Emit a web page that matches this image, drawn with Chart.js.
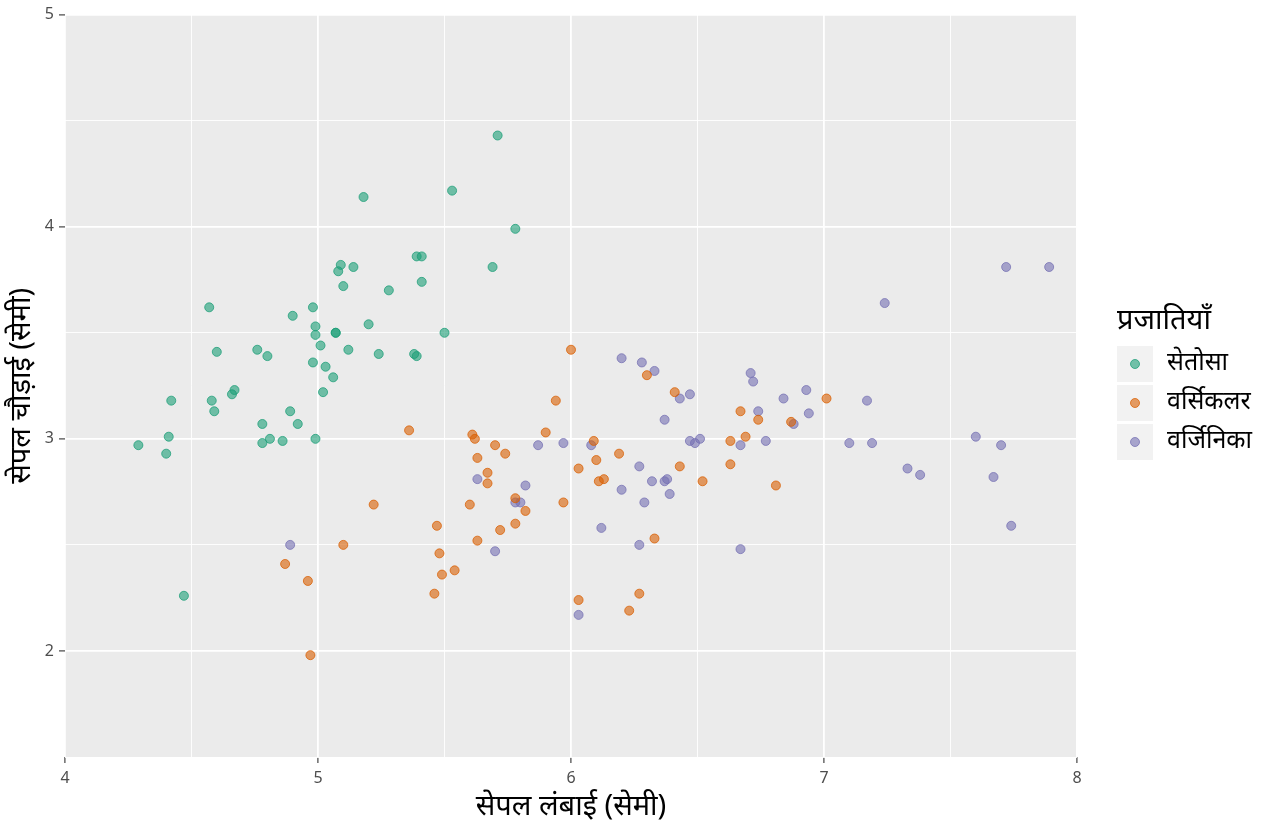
<!DOCTYPE html>
<html lang="hi">
<head>
    <meta charset="UTF-8">
    <title>सेपल आयाम</title>
    <style>
        html, body { margin: 0; padding: 0; background: #ffffff; }
        #wrap { width: 1280px; height: 832px; }
    </style>
    <script src="https://cdn.jsdelivr.net/npm/chart.js"></script>
</head>
<body>
<div id="wrap"><canvas id="irisChart" width="1280" height="832"></canvas></div>
<script>
    // species names and axis titles
    const speciesNames = ["सेतोसा", "वर्सिकलर", "वर्जिनिका"];
    const legendTitle = "प्रजातियाँ";
    const xTitle = "सेपल लंबाई (सेमी)";
    const yTitle = "सेपल चौड़ाई (सेमी)";
    const xTickLabels = [4, 5, 6, 7, 8];
    const yTickLabels = [2, 3, 4, 5];

    // values (jittered points)
    const setosaLength = [5.71, 5.53, 5.18, 5.78, 5.39, 5.41, 5.69, 5.09, 5.14, 5.08, 5.10, 5.28, 5.41,
        4.57, 4.98, 4.90, 4.99, 5.20, 5.07, 5.07, 4.99, 5.50, 5.01, 4.60, 4.76, 4.80, 5.12, 5.24,
        5.38, 5.39, 4.98, 5.03, 5.06, 5.02, 4.67, 4.66, 4.42, 4.58, 4.59, 4.89, 4.78, 4.92, 4.41,
        4.29, 4.40, 4.78, 4.81, 4.86, 4.99, 4.47];
    const setosaWidth = [4.43, 4.17, 4.14, 3.99, 3.86, 3.86, 3.81, 3.82, 3.81, 3.79, 3.72, 3.70, 3.74,
        3.62, 3.62, 3.58, 3.53, 3.54, 3.50, 3.50, 3.49, 3.50, 3.44, 3.41, 3.42, 3.39, 3.42, 3.40,
        3.40, 3.39, 3.36, 3.34, 3.29, 3.22, 3.23, 3.21, 3.18, 3.18, 3.13, 3.13, 3.07, 3.07, 3.01,
        2.97, 2.93, 2.98, 3.00, 2.99, 3.00, 2.26];

    const versicolorLength = [5.36, 5.22, 5.10, 4.87, 4.96, 4.97, 5.61, 5.62, 5.70, 5.74, 5.63, 5.67,
        5.67, 5.60, 5.78, 5.82, 5.78, 5.72, 5.63, 5.47, 5.48, 5.54, 5.49, 5.46, 5.90, 5.94, 6.00,
        6.30, 6.41, 6.09, 6.10, 6.03, 6.19, 6.11, 6.13, 5.97, 6.43, 6.52, 6.33, 6.03, 6.27, 6.23,
        6.67, 6.74, 6.63, 6.69, 6.63, 6.87, 6.81, 7.01];
    const versicolorWidth = [3.04, 2.69, 2.50, 2.41, 2.33, 1.98, 3.02, 3.00, 2.97, 2.93, 2.91, 2.84,
        2.79, 2.69, 2.72, 2.66, 2.60, 2.57, 2.52, 2.59, 2.46, 2.38, 2.36, 2.27, 3.03, 3.18, 3.42,
        3.30, 3.22, 2.99, 2.90, 2.86, 2.93, 2.80, 2.81, 2.70, 2.87, 2.80, 2.53, 2.24, 2.27, 2.19,
        3.13, 3.09, 2.99, 3.01, 2.88, 3.08, 2.78, 3.19];

    const virginicaLength = [5.87, 5.63, 5.82, 5.78, 5.80, 4.89, 5.70, 6.20, 6.28, 6.33, 6.47, 6.43,
        6.71, 6.72, 6.93, 6.84, 6.74, 6.94, 6.88, 6.37, 6.47, 6.51, 6.49, 6.67, 6.77, 5.97, 6.08,
        6.27, 6.38, 6.37, 6.32, 6.20, 6.39, 6.29, 6.12, 6.27, 6.67, 6.03, 7.72, 7.89, 7.24, 7.17,
        7.10, 7.19, 7.33, 7.38, 7.60, 7.70, 7.67, 7.74];
    const virginicaWidth = [2.97, 2.81, 2.78, 2.70, 2.70, 2.50, 2.47, 3.38, 3.36, 3.32, 3.21, 3.19,
        3.31, 3.27, 3.23, 3.19, 3.13, 3.12, 3.07, 3.09, 2.99, 3.00, 2.98, 2.97, 2.99, 2.98, 2.97,
        2.87, 2.81, 2.80, 2.80, 2.76, 2.74, 2.70, 2.58, 2.50, 2.48, 2.17, 3.81, 3.81, 3.64, 3.18,
        2.98, 2.98, 2.86, 2.83, 3.01, 2.97, 2.82, 2.59];

    const speciesColors = [[27, 158, 119], [217, 95, 2], [117, 112, 179]];

    const FONT = "'Noto Sans', 'Noto Sans Devanagari', sans-serif";

    function toPoints(xs, ys) {
        return xs.map((x, i) => ({ x: x, y: ys[i] }));
    }

    function rgba(c, a) {
        return "rgba(" + c[0] + "," + c[1] + "," + c[2] + "," + a + ")";
    }

    const seriesData = [
        toPoints(setosaLength, setosaWidth),
        toPoints(versicolorLength, versicolorWidth),
        toPoints(virginicaLength, virginicaWidth)
    ];

    const isMajor = v => Number.isInteger(Math.round(v * 1000) / 1000);

    // grey panel behind the points
    const panelBackground = {
        id: "panelBackground",
        beforeDraw(chart) {
            const a = chart.chartArea;
            const ctx = chart.ctx;
            ctx.save();
            ctx.fillStyle = "#EBEBEB";
            ctx.fillRect(a.left, a.top, a.right - a.left, a.bottom - a.top);
            ctx.restore();
        }
    };

    // ggplot-like legend with grey key boxes
    const sideLegend = {
        id: "sideLegend",
        afterDraw(chart) {
            const ctx = chart.ctx;
            const x0 = 1117;
            ctx.save();
            ctx.fillStyle = "#000000";
            ctx.font = "29px " + FONT;
            ctx.textBaseline = "middle";
            ctx.textAlign = "left";
            ctx.fillText(legendTitle, x0, 321);
            ctx.font = "25px " + FONT;
            chart.data.datasets.forEach((ds, i) => {
                const top = 346 + i * 39;
                ctx.fillStyle = "#F2F2F2";
                ctx.fillRect(x0, top, 36, 36);
                ctx.beginPath();
                ctx.arc(x0 + 18, top + 18, 4.5, 0, Math.PI * 2);
                ctx.fillStyle = ds.backgroundColor;
                ctx.fill();
                ctx.lineWidth = 1;
                ctx.strokeStyle = ds.borderColor;
                ctx.stroke();
                ctx.fillStyle = "#000000";
                ctx.fillText(ds.label, x0 + 50, top + 17);
            });
            ctx.restore();
        }
    };

    function gridOptions() {
        return {
            color: "#FFFFFF",
            lineWidth: c => (c.tick && isMajor(c.tick.value)) ? 1.8 : 0.9,
            tickColor: c => (c.tick && isMajor(c.tick.value)) ? "#333333" : "rgba(0,0,0,0)",
            tickWidth: 1.1,
            tickLength: 6
        };
    }

    const ctx = document.getElementById("irisChart").getContext("2d");
    new Chart(ctx, {
        type: "scatter",
        data: {
            datasets: speciesNames.map((name, i) => ({
                label: name,
                data: seriesData[i],
                backgroundColor: rgba(speciesColors[i], 0.6),
                borderColor: rgba(speciesColors[i], 0.75),
                borderWidth: 1,
                pointRadius: 4.5,
                pointHoverRadius: 4.5
            }))
        },
        options: {
            responsive: false,
            animation: false,
            layout: { padding: { left: 0, top: 10, right: 203, bottom: 0 } },
            plugins: {
                legend: { display: false },
                tooltip: { enabled: false }
            },
            scales: {
                x: {
                    type: "linear",
                    min: 4,
                    max: 8,
                    border: { display: false },
                    grid: gridOptions(),
                    afterFit: s => { s.height = 75; },
                    ticks: {
                        stepSize: 0.5,
                        autoSkip: false,
                        maxRotation: 0,
                        padding: 6,
                        color: "#4D4D4D",
                        font: { family: FONT, size: 16 },
                        callback: v => xTickLabels.includes(v) ? String(v) : ""
                    },
                    title: {
                        display: true,
                        text: xTitle,
                        color: "#000000",
                        font: { family: FONT, size: 29 },
                        padding: { top: 0, bottom: 8 }
                    }
                },
                y: {
                    type: "linear",
                    min: 1.5,
                    max: 5,
                    border: { display: false },
                    grid: gridOptions(),
                    afterFit: s => { s.width = 65; },
                    ticks: {
                        stepSize: 0.5,
                        autoSkip: false,
                        padding: 5,
                        color: "#4D4D4D",
                        font: { family: FONT, size: 16 },
                        callback: v => yTickLabels.includes(v) ? String(v) : ""
                    },
                    title: {
                        display: true,
                        text: yTitle,
                        color: "#000000",
                        font: { family: FONT, size: 29 },
                        padding: { top: 4, bottom: 0 }
                    }
                }
            }
        },
        plugins: [panelBackground, sideLegend]
    });
</script>
</body>
</html>
